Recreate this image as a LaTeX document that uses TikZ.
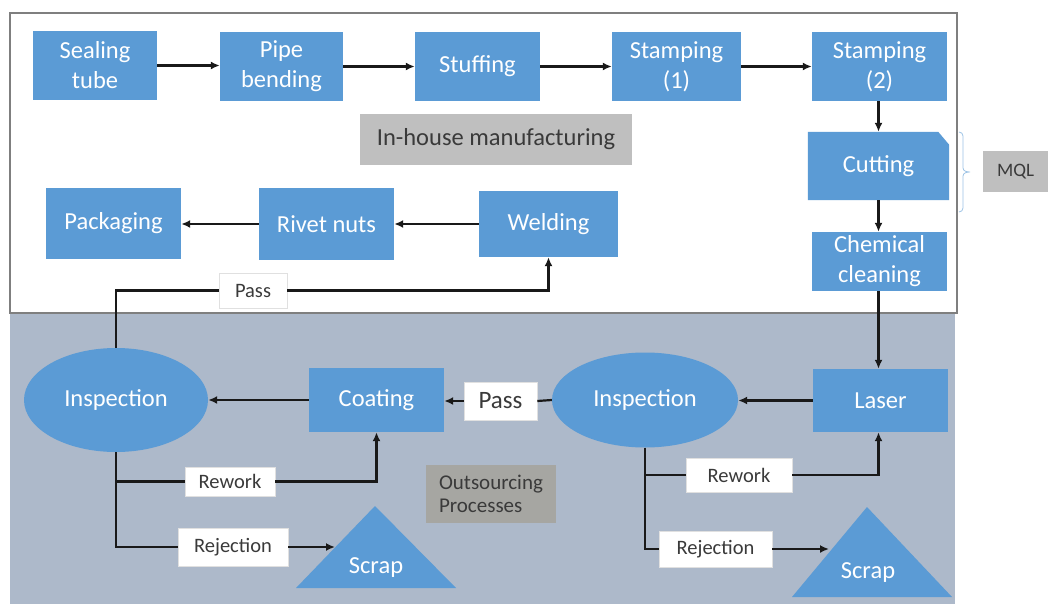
\documentclass[tikz,border=0pt]{standalone}
\usepackage{fontspec}
\setmainfont{Carlito}
\usetikzlibrary{shapes.geometric,arrows.meta}
\pgfdeclarelayer{back}
\pgfdeclarelayer{mid}
\pgfsetlayers{back,mid,main}
\definecolor{boxblue}{HTML}{5B9BD5}
\definecolor{bandcol}{HTML}{ADB9CA}
\definecolor{lblgray}{HTML}{BFBFBF}
\definecolor{outgray}{HTML}{A6A6A2}
\definecolor{txtgray}{HTML}{3A3A3A}
\definecolor{bracecol}{HTML}{9DC3E6}
\definecolor{framecol}{HTML}{7F7F7F}
\begin{document}
\begin{tikzpicture}[x=1pt,y=-1pt,
  proc/.style={rectangle, fill=boxblue, text=white, font=\fontsize{24.5}{30}\selectfont, align=center, inner sep=0pt},
  ovalbox/.style={ellipse, fill=boxblue, text=white, font=\fontsize{24.5}{30}\selectfont, inner sep=0pt},
  tag/.style={rectangle, fill=white, draw=black!12, line width=0.6pt, text=txtgray, font=\fontsize{20.5}{23}\selectfont, inner sep=0pt},
  graylbl/.style={rectangle, fill=lblgray, text=txtgray, inner sep=0pt},
  arr/.style={line width=2.2pt, draw=black!90, -{Latex[length=9pt,width=8pt]}},
  ln/.style={line width=2.2pt, draw=black!90}]
\useasboundingbox (0,0) rectangle (1048,604);
\begin{pgfonlayer}{back}
  \fill[white] (0,0) rectangle (1048,604);
  \fill[bandcol] (10,313) rectangle (955,604);
  \draw[framecol, line width=1.5pt, fill=white] (10,13) rectangle (957,313);
\end{pgfonlayer}

% top row
\node[proc, minimum width=124pt, minimum height=69pt] (seal) at (95,65.5) {Sealing\\tube};
\node[proc, minimum width=123pt, minimum height=69pt] (pipe) at (281.5,66.5) {Pipe\\bending};
\node[proc, minimum width=125pt, minimum height=69pt] (stuff) at (477.5,66.5) {Stuffing};
\node[proc, minimum width=129pt, minimum height=69pt] (stampa) at (676.5,66.5) {Stamping\\(1)};
\node[proc, minimum width=135pt, minimum height=69pt] (stampb) at (879.5,66.5) {Stamping\\(2)};
\node[proc, fill=none, minimum width=141pt, minimum height=68pt] (cut) at (878.5,166) {Cutting};
\begin{pgfonlayer}{mid}
  \fill[boxblue] (cut.south west) -- (cut.north west) -- ([xshift=-11pt]cut.north east)
    -- ([yshift=-13pt]cut.north east) -- (cut.south east) -- cycle;
\end{pgfonlayer}
\node[proc, minimum width=135pt, minimum height=59pt] (chem) at (879.5,261.5) {Chemical\\cleaning};
\node[graylbl, minimum width=272pt, minimum height=51pt, font=\fontsize{24.5}{28}\selectfont] (inhouse) at (496,139.5) {In-house manufacturing};
\node[graylbl, minimum width=65pt, minimum height=41pt, font=\fontsize{19}{22}\selectfont] (mql) at (1015.5,171.5) {MQL};
\draw[bracecol, line width=0.8pt] (959,132) to[out=0,in=90] (963,136) -- (963,168)
  to[out=-90,in=180] (970,172) to[out=180,in=90] (963,176) -- (963,208) to[out=-90,in=0] (959,212);

% second row
\node[proc, minimum width=135pt, minimum height=71pt] (pack) at (113.5,223.5) {Packaging};
\node[proc, minimum width=135pt, minimum height=72pt] (rivet) at (326.5,224) {Rivet nuts};
\node[proc, minimum width=139pt, minimum height=66pt] (weld) at (548.5,224) {Welding};
\node[tag, minimum width=68pt, minimum height=35pt] (passa) at (253,290.5) {Pass};

% lower region
\node[ovalbox, minimum width=184pt, minimum height=104pt] (inspa) at (116,400) {Inspection};
\node[proc, minimum width=135pt, minimum height=64pt] (coat) at (376.5,400) {Coating};
\node[tag, minimum width=73pt, minimum height=38pt, font=\fontsize{25}{28}\selectfont] (passb) at (500.5,401) {Pass};
\node[ovalbox, minimum width=186pt, minimum height=95pt] (inspb) at (645,400) {Inspection};
\node[proc, minimum width=135pt, minimum height=63pt] (laser) at (880.5,400.5) {Laser};
\node[tag, minimum width=90pt, minimum height=29pt] (rewa) at (230,481.5) {Rework};
\node[tag, minimum width=110pt, minimum height=38pt] (reja) at (233,547) {Rejection};
\node[tag, minimum width=106pt, minimum height=34pt] (rewb) at (739,475) {Rework};
\node[tag, minimum width=113pt, minimum height=36pt] (rejb) at (715.5,549) {Rejection};
\node[rectangle, fill=outgray, text=txtgray, inner sep=0pt, minimum width=130pt, minimum height=58pt,
  align=left, font=\fontsize{21}{23}\selectfont] (outs) at (491,494) {Outsourcing\\Processes};

% scrap triangles
\fill[boxblue] (375,506) -- (456,588) -- (296,588) -- cycle;
\node[text=white, font=\fontsize{24.5}{28}\selectfont, inner sep=0pt] (scrapa) at (376,568) {Scrap};
\coordinate (scrapain) at (335,547);
\fill[boxblue] (867,507) -- (952,597) -- (792,597) -- cycle;
\node[text=white, font=\fontsize{24.5}{28}\selectfont, inner sep=0pt] (scrapb) at (868,573) {Scrap};
\coordinate (scrapbin) at (829,549);

% connectors top
\draw[arr] (seal.east) -- (seal.east -| pipe.west);
\draw[arr] (pipe.east) -- (pipe.east -| stuff.west);
\draw[arr] (stuff.east) -- (stuff.east -| stampa.west);
\draw[arr] (stampa.east) -- (stampa.east -| stampb.west);
\draw[arr] ([xshift=-1pt]stampb.south) -- ([xshift=-1pt]stampb.south |- cut.north);
\draw[arr] (cut.south) -- (cut.south |- chem.north);
\draw[arr] ([xshift=-1pt]chem.south) -- ([xshift=-1pt]chem.south |- laser.north);
\draw[arr] (weld.west) -- (weld.west -| rivet.east);
\draw[arr] (rivet.west) -- (rivet.west -| pack.east);

% connectors lower
\draw[arr] (laser.west) -- (laser.west -| inspb.east);
\draw[ln] (inspb.west) -- (passb.east);
\draw[arr] (passb.west) -- (passb.west -| coat.east);
\draw[arr] (coat.west) -- (inspa.east);
\draw[ln] (inspa.north) -- (inspa.north |- passa.west) -- (passa.west);
\draw[arr] (passa.east) -- (passa.east -| weld.south) -- (weld.south);
\draw[ln] (inspa.south) -- (inspa.south |- reja.west) -- (reja.west);
\draw[ln] (inspa.south |- rewa.west) -- (rewa.west);
\draw[arr] (rewa.east) -- (rewa.east -| coat.south) -- (coat.south);
\draw[arr] (reja.east) -- (scrapain);
\draw[ln] (inspb.south) -- (inspb.south |- rejb.west) -- (rejb.west);
\draw[ln] (inspb.south |- rewb.west) -- (rewb.west);
\draw[arr] (rewb.east) -- ([xshift=-2pt]rewb.east -| laser.south) -- ([xshift=-2pt]laser.south);
\draw[arr] (rejb.east) -- (scrapbin);
\end{tikzpicture}
\end{document}
